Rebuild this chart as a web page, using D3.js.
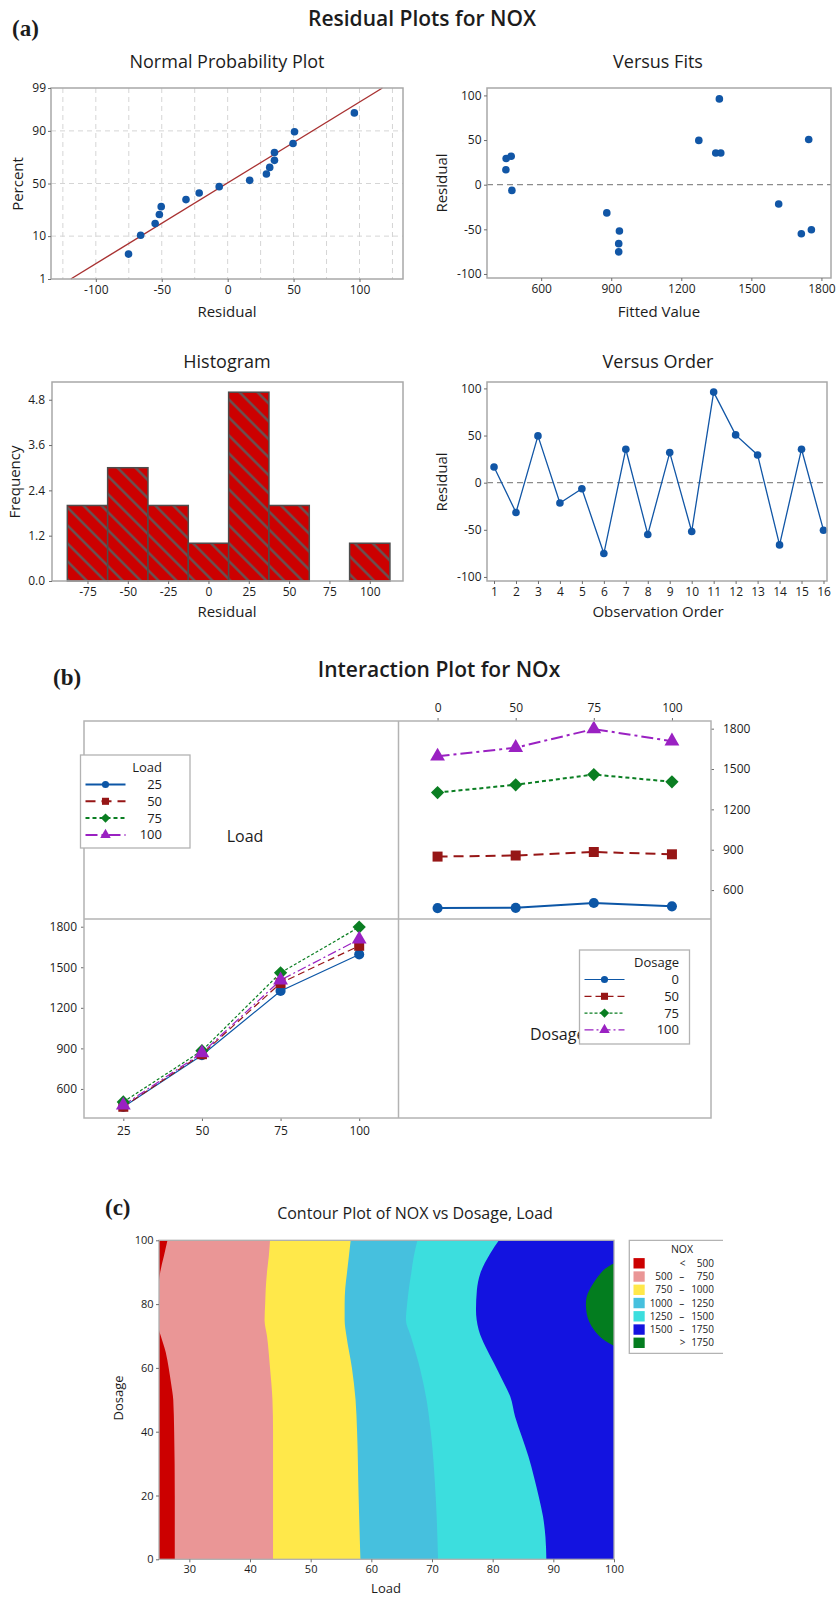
<!DOCTYPE html>
<html>
<head>
<meta charset="utf-8">
<script src="https://cdn.jsdelivr.net/npm/d3@7"></script>
<style>
  body { margin: 0; background: #fff; }
  svg { display: block; font-family: "Open Sans", "Noto Sans", sans-serif; }
</style>
</head>
<body>
<svg id="fig" width="838" height="1597"></svg>
<script>
// ---------- (a) residuals of the NOX model ----------
const observationOrder = d3.range(1, 17);
const residuals = [16.7, -31.6, 49.6, -21.6, -6.4, -75.2, 35.5, -55.0, 31.9, -51.8, 96.1, 50.7, 29.4, -66.0, 35.5, -50.4];
const fittedValues = [449, 881, 1275, 1617, 474.5, 932, 1347.5, 1714, 471.6, 935, 1363, 1745.5, 450, 932, 1369, 1757];
const histMidpoints = [-75, -50, -25, 0, 25, 50, 75, 100];
const histCounts = [2, 3, 2, 1, 5, 2, 0, 1];
const percentTicks = [1, 10, 50, 90, 99];
const residualTicks = [-100, -50, 0, 50, 100];
const fitTicks = [600, 900, 1200, 1500, 1800];
const freqTicks = [0, 1.2, 2.4, 3.6, 4.8];

// ---------- (b) mean NOx by Load (rows) and Dosage (columns) ----------
const loadLevels = ["25", "50", "75", "100"];
const dosageLevels = ["0", "50", "75", "100"];
const noxLoad25 = [466, 468, 504, 479];
const noxLoad50 = [849, 857, 883, 866];
const noxLoad75 = [1325, 1383, 1459, 1405];
const noxLoad100 = [1595, 1659, 1797, 1707];
const noxTicks = [600, 900, 1200, 1500, 1800];

// ---------- (c) contour boundaries, [dosage, load] where NOX reaches each level ----------
const edge500 = [[0, 27.6], [20, 27.6], [40, 27.5], [50, 27.35], [55, 27.0], [60, 26.6], [65, 26.1], [70, 25.3], [72, 25], [87, 25], [90, 25.2], [95, 25.8], [100, 26.4]];
const edge750 = [[0, 43.8], [20, 43.8], [40, 43.8], [50, 43.7], [60, 43.3], [70, 42.8], [75, 42.4], [80, 42.5], [85, 42.6], [90, 42.8], [95, 43.1], [100, 43.3]];
const edge1000 = [[0, 58.2], [20, 57.9], [40, 57.65], [50, 57.4], [60, 56.8], [70, 55.9], [75, 55.6], [80, 55.6], [85, 55.7], [90, 56.0], [95, 56.3], [100, 56.6]];
const edge1250 = [[0, 71.0], [20, 70.6], [40, 69.8], [50, 69.1], [60, 68.0], [70, 66.5], [75, 65.7], [80, 65.9], [85, 66.2], [90, 66.6], [95, 67.0], [100, 67.6]];
const edge1500 = [[0, 88.85], [7, 88.7], [13.4, 88.3], [19.6, 87.6], [25.9, 86.8], [32.2, 85.9], [38.5, 84.8], [44.7, 83.7], [51, 82.9], [56.2, 81.6], [61.5, 80.2], [66.7, 78.8], [71.9, 77.7], [78.2, 77.25], [84.4, 77.4], [89.7, 77.97], [95.9, 79.6], [100, 81.04]];
// region above 1750, [load, dosage]
const peak1750 = [[100, 92.8], [98.3, 90.7], [96.6, 86.5], [95.5, 82.3], [95.4, 78.7], [95.8, 75.0], [96.9, 71.4], [98.3, 68.8], [100, 66.9]];
const bandLow = [null, 500, 750, 1000, 1250, 1500, 1750];
const bandHigh = [500, 750, 1000, 1250, 1500, 1750, null];
const bandColors = ["#cc0000", "#ea9696", "#ffe84a", "#46c0de", "#3cdede", "#1313e0", "#037d1f"];
const loadTicks = [30, 40, 50, 60, 70, 80, 90, 100];
const dosageTicks = [0, 20, 40, 60, 80, 100];

// ---------- styling ----------
const ink = "#1c1c1c";
const frameGrey = "#a8a8a8";
const dotBlue = "#1156a6";
const seriesColors = ["#0c56a6", "#961616", "#0a7e22", "#9a21c2"];
const thickDash = [null, "10,6", "4,3", "12,4,3,4"];
const thinDash = [null, "7,4", "3,2", "9,3,2,3"];
const plain = d => String(d);

const svg = d3.select("#fig");

function label(parent, x, y, str, o = {}) {
  const t = parent.append("text")
    .attr("transform", `translate(${x},${y})` + (o.rotate ? ` rotate(${o.rotate})` : ""))
    .attr("text-anchor", o.anchor || "middle")
    .attr("dy", o.dy || "0.35em")
    .attr("fill", o.fill || ink)
    .style("font-size", (o.size || 15) + "px")
    .style("font-weight", o.weight || 400)
    .text(str);
  if (o.family) t.style("font-family", o.family);
  return t;
}

function frame(g, x0, y0, x1, y1, color = frameGrey, w = 1.5) {
  g.append("rect").attr("x", x0).attr("y", y0).attr("width", x1 - x0).attr("height", y1 - y0)
    .attr("fill", "none").attr("stroke", color).attr("stroke-width", w);
}

function tidyAxis(sel, size = 12) {
  sel.select(".domain").remove();
  sel.selectAll(".tick line").attr("stroke", "#6d6d6d");
  sel.selectAll(".tick text").attr("fill", ink).style("font-size", size + "px").style("font-family", "\"Open Sans\", sans-serif");
}

// inverse standard normal CDF (Acklam)
function probit(p) {
  const a = [-3.969683028665376e+01, 2.209460984245205e+02, -2.759285104469687e+02, 1.383577518672690e+02, -3.066479806614716e+01, 2.506628277459239e+00];
  const b = [-5.447609879822406e+01, 1.615858368580409e+02, -1.556989798598866e+02, 6.680131188771972e+01, -1.328068155288572e+01];
  const c = [-7.784894002430293e-03, -3.223964580411365e-01, -2.400758277161838e+00, -2.549732539343734e+00, 4.374664141464968e+00, 2.938163982698783e+00];
  const d = [7.784695709041462e-03, 3.224671290700398e-01, 2.445134137142996e+00, 3.754408661907416e+00];
  const pl = 0.02425;
  if (p < pl) {
    const q = Math.sqrt(-2 * Math.log(p));
    return (((((c[0] * q + c[1]) * q + c[2]) * q + c[3]) * q + c[4]) * q + c[5]) / ((((d[0] * q + d[1]) * q + d[2]) * q + d[3]) * q + 1);
  }
  if (p <= 1 - pl) {
    const q = p - 0.5, r = q * q;
    return (((((a[0] * r + a[1]) * r + a[2]) * r + a[3]) * r + a[4]) * r + a[5]) * q / (((((b[0] * r + b[1]) * r + b[2]) * r + b[3]) * r + b[4]) * r + 1);
  }
  return -probit(1 - p);
}

// ====================== (a) Residual Plots ======================
const ga = svg.append("g");
label(ga, 12, 28, "(a)", { anchor: "start", size: 23, weight: 700, family: "\"Liberation Serif\", serif" });
label(ga, 422, 19, "Residual Plots for NOX", { size: 21, weight: 600 });

// --- Normal probability plot ---
{
  const X0 = 51, X1 = 403, Y0 = 88, Y1 = 279;
  const x = d3.scaleLinear().domain([-134, 133]).range([X0, X1]);
  const y = d3.scaleLinear().domain([probit(0.01), probit(0.99)]).range([Y1, Y0]);
  const g = ga.append("g");
  label(g, 227, 62, "Normal Probability Plot", { size: 18 });

  const grid = g.append("g").attr("stroke", "#d5d5d5").attr("stroke-dasharray", "5,4").attr("stroke-width", 1);
  d3.range(-125, 126, 25).forEach(v => grid.append("line").attr("x1", x(v)).attr("x2", x(v)).attr("y1", Y0).attr("y2", Y1));
  [10, 50, 90].forEach(p => grid.append("line").attr("x1", X0).attr("x2", X1).attr("y1", y(probit(p / 100))).attr("y2", y(probit(p / 100))));

  // fitted normal line from the residuals' mean and standard deviation
  const m = d3.mean(residuals), s = d3.deviation(residuals);
  const zLo = probit(0.01), zHi = probit(0.99);
  g.append("line").attr("x1", x(m + s * zLo)).attr("y1", y(zLo)).attr("x2", x(m + s * zHi)).attr("y2", y(zHi))
    .attr("stroke", "#a93232").attr("stroke-width", 1.4);

  const sorted = residuals.slice().sort(d3.ascending);
  const n = sorted.length;
  g.selectAll("circle.pt").data(sorted).join("circle")
    .attr("cx", d => x(d)).attr("cy", (d, i) => y(probit((i + 1 - 0.3) / (n + 0.4))))
    .attr("r", 3.8).attr("fill", dotBlue);

  frame(g, X0, Y0, X1, Y1);
  g.append("g").attr("transform", `translate(0,${Y1})`)
    .call(d3.axisBottom(x).tickValues(residualTicks).tickFormat(plain).tickSize(3).tickPadding(3)).call(tidyAxis);
  g.append("g").attr("transform", `translate(${X0},0)`)
    .call(d3.axisLeft(y).tickValues(percentTicks.map(p => probit(p / 100))).tickFormat((d, i) => percentTicks[i]).tickSize(3).tickPadding(2)).call(tidyAxis);
  label(g, 227, 312, "Residual", { size: 15 });
  label(g, 18, 184, "Percent", { size: 15, rotate: -90 });
}

// --- Versus Fits ---
{
  const X0 = 487, X1 = 831, Y0 = 88, Y1 = 278;
  const x = d3.scaleLinear().domain([368, 1841]).range([X0, X1]);
  const y = d3.scaleLinear().domain([-104.5, 108.3]).range([Y1, Y0]);
  const g = ga.append("g");
  label(g, 658, 62, "Versus Fits", { size: 18 });
  g.append("line").attr("x1", X0).attr("x2", X1).attr("y1", y(0)).attr("y2", y(0))
    .attr("stroke", "#8c8c8c").attr("stroke-width", 1.3).attr("stroke-dasharray", "6,4");
  g.selectAll("circle").data(fittedValues).join("circle")
    .attr("cx", d => x(d)).attr("cy", (d, i) => y(residuals[i])).attr("r", 3.8).attr("fill", dotBlue);
  frame(g, X0, Y0, X1, Y1);
  g.append("g").attr("transform", `translate(0,${Y1})`)
    .call(d3.axisBottom(x).tickValues(fitTicks).tickFormat(plain).tickSize(3).tickPadding(3)).call(tidyAxis);
  g.append("g").attr("transform", `translate(${X0},0)`)
    .call(d3.axisLeft(y).tickValues(residualTicks).tickFormat(plain).tickSize(3).tickPadding(2.5)).call(tidyAxis);
  label(g, 659, 312, "Fitted Value", { size: 15 });
  label(g, 442, 183, "Residual", { size: 15, rotate: -90 });
}

// --- Histogram ---
{
  const X0 = 52, X1 = 403, Y0 = 382, Y1 = 581;
  const x = d3.scaleLinear().domain([-97, 120.6]).range([X0, X1]);
  const y = d3.scaleLinear().domain([0, 5.27]).range([Y1, Y0]);
  const g = ga.append("g");
  label(g, 227, 362, "Histogram", { size: 18 });

  const defs = svg.append("defs");
  const pat = defs.append("pattern").attr("id", "hatch").attr("patternUnits", "userSpaceOnUse")
    .attr("width", 12.7).attr("height", 12.7).attr("patternTransform", "rotate(45)");
  pat.append("rect").attr("width", 12.7).attr("height", 12.7).attr("fill", "#cc0000");
  pat.append("line").attr("x1", 0).attr("x2", 12.7).attr("y1", 6.35).attr("y2", 6.35)
    .attr("stroke", "#5c5c5c").attr("stroke-width", 2.2);

  g.selectAll("rect.bar").data(histMidpoints).join("rect").attr("class", "bar")
    .attr("x", d => x(d - 12.5)).attr("width", d => x(d + 12.5) - x(d - 12.5))
    .attr("y", (d, i) => y(histCounts[i])).attr("height", (d, i) => y(0) - y(histCounts[i]))
    .attr("fill", "url(#hatch)").attr("stroke", "#4d4d4d").attr("stroke-width", 1.5);

  frame(g, X0, Y0, X1, Y1);
  g.append("g").attr("transform", `translate(0,${Y1})`)
    .call(d3.axisBottom(x).tickValues(histMidpoints).tickFormat(plain).tickSize(3).tickPadding(3)).call(tidyAxis);
  g.append("g").attr("transform", `translate(${X0},0)`)
    .call(d3.axisLeft(y).tickValues(freqTicks).tickFormat(d => d.toFixed(1)).tickSize(3).tickPadding(4)).call(tidyAxis);
  label(g, 227, 612, "Residual", { size: 15 });
  label(g, 15, 482, "Frequency", { size: 15, rotate: -90 });
}

// --- Versus Order ---
{
  const X0 = 487, X1 = 827, Y0 = 382, Y1 = 581;
  const x = d3.scaleLinear().domain([0.68, 16.16]).range([X0, X1]);
  const y = d3.scaleLinear().domain([-104.3, 106.8]).range([Y1, Y0]);
  const g = ga.append("g");
  label(g, 658, 362, "Versus Order", { size: 18 });
  g.append("line").attr("x1", X0).attr("x2", X1).attr("y1", y(0)).attr("y2", y(0))
    .attr("stroke", "#8c8c8c").attr("stroke-width", 1.3).attr("stroke-dasharray", "6,4");
  g.append("path").datum(observationOrder)
    .attr("d", d3.line().x(d => x(d)).y((d, i) => y(residuals[i])))
    .attr("fill", "none").attr("stroke", dotBlue).attr("stroke-width", 1.3);
  g.selectAll("circle").data(observationOrder).join("circle")
    .attr("cx", d => x(d)).attr("cy", (d, i) => y(residuals[i])).attr("r", 3.8).attr("fill", dotBlue);
  frame(g, X0, Y0, X1, Y1);
  g.append("g").attr("transform", `translate(0,${Y1})`)
    .call(d3.axisBottom(x).tickValues(observationOrder).tickFormat(plain).tickSize(3).tickPadding(3)).call(tidyAxis);
  g.append("g").attr("transform", `translate(${X0},0)`)
    .call(d3.axisLeft(y).tickValues(residualTicks).tickFormat(plain).tickSize(3).tickPadding(2.5)).call(tidyAxis);
  label(g, 658, 612, "Observation Order", { size: 15 });
  label(g, 442, 482, "Residual", { size: 15, rotate: -90 });
}

// ====================== (b) Interaction Plot ======================
const gb = svg.append("g");
label(gb, 53, 677, "(b)", { anchor: "start", size: 23, weight: 700, family: "\"Liberation Serif\", serif" });
label(gb, 439, 670, "Interaction Plot for NOx", { size: 21, weight: 600 });

const noxByLoad = [noxLoad25, noxLoad50, noxLoad75, noxLoad100];
const L = 84, R = 711, T = 721, B = 1118, MX = 398.5, MY = 919;

function marker(g, k, cx, cy, scale) {
  const types = [d3.symbolCircle, d3.symbolSquare, d3.symbolSquare, d3.symbolTriangle];
  const areas = [80, 100, 88, 95];
  g.append("path").attr("d", d3.symbol(types[k], areas[k] * scale)())
    .attr("transform", `translate(${cx},${cy})` + (k === 2 ? " rotate(45)" : ""))
    .attr("fill", seriesColors[k]);
}

// top-right: NOx vs Dosage, one line per Load
{
  const x = d3.scalePoint().domain(dosageLevels).range([MX, R]).padding(0.5);
  const y = d3.scaleLinear().domain([385, 1857]).range([MY, T]);
  const g = gb.append("g");
  noxByLoad.forEach((row, k) => {
    g.append("path").datum(row)
      .attr("d", d3.line().x((d, j) => x(dosageLevels[j])).y(d => y(d)))
      .attr("fill", "none").attr("stroke", seriesColors[k]).attr("stroke-width", 2)
      .attr("stroke-dasharray", thickDash[k]);
    row.forEach((v, j) => marker(g, k, x(dosageLevels[j]), y(v), 1));
  });
  g.append("g").attr("transform", `translate(0,${T})`)
    .call(d3.axisTop(x).tickSize(3).tickPadding(6)).call(tidyAxis);
  g.append("g").attr("transform", `translate(${R},0)`)
    .call(d3.axisRight(y).tickValues(noxTicks).tickFormat(plain).tickSize(3).tickPadding(9)).call(tidyAxis);
}

// bottom-left: NOx vs Load, one line per Dosage
{
  const x = d3.scalePoint().domain(loadLevels).range([L, MX]).padding(0.5);
  const y = d3.scaleLinear().domain([385, 1857]).range([B, MY]);
  const g = gb.append("g");
  dosageLevels.forEach((dl, k) => {
    const col = noxByLoad.map(row => row[k]);
    g.append("path").datum(col)
      .attr("d", d3.line().x((d, i) => x(loadLevels[i])).y(d => y(d)))
      .attr("fill", "none").attr("stroke", seriesColors[k]).attr("stroke-width", 1.2)
      .attr("stroke-dasharray", thinDash[k]);
  });
  dosageLevels.forEach((dl, k) => {
    noxByLoad.forEach((row, i) => marker(g, k, x(loadLevels[i]), y(row[k]), 1));
  });
  g.append("g").attr("transform", `translate(0,${B})`)
    .call(d3.axisBottom(x).tickSize(3).tickPadding(5)).call(tidyAxis);
  g.append("g").attr("transform", `translate(${L},0)`)
    .call(d3.axisLeft(y).tickValues(noxTicks).tickFormat(plain).tickSize(3).tickPadding(4)).call(tidyAxis);
}

// panel frame, dividers and factor names
{
  const g = gb.append("g");
  frame(g, L, T, R, B, "#b3b3b3", 1.5);
  g.append("line").attr("x1", MX).attr("x2", MX).attr("y1", T).attr("y2", B).attr("stroke", "#b3b3b3").attr("stroke-width", 1.5);
  g.append("line").attr("x1", L).attr("x2", R).attr("y1", MY).attr("y2", MY).attr("stroke", "#b3b3b3").attr("stroke-width", 1.5);
  label(g, 245, 836, "Load", { size: 16 });
  label(g, 530, 1034, "Dosage", { size: 16, anchor: "start" });
}

function seriesLegend(g, x0, y0, w, h, textRight, title, levels, lineW, dashes) {
  g.append("rect").attr("x", x0).attr("y", y0).attr("width", w).attr("height", h)
    .attr("fill", "#fff").attr("stroke", "#b3b3b3").attr("stroke-width", 1.3);
  label(g, textRight, y0 + 12, title, { anchor: "end", size: 13 });
  levels.forEach((lv, k) => {
    const yy = y0 + 29.5 + k * 16.8;
    g.append("line").attr("x1", x0 + 5).attr("x2", x0 + 45).attr("y1", yy).attr("y2", yy)
      .attr("stroke", seriesColors[k]).attr("stroke-width", lineW).attr("stroke-dasharray", dashes[k]);
    marker(g, k, x0 + 25, yy, 0.5);
    label(g, textRight, yy, lv, { anchor: "end", size: 13 });
  });
}
seriesLegend(gb.append("g"), 80.5, 755, 109.5, 93, 162, "Load", loadLevels, 2, thickDash);
seriesLegend(gb.append("g"), 579.5, 950, 110, 94, 679, "Dosage", dosageLevels, 1.2, thinDash);

// ====================== (c) Contour Plot ======================
const gc = svg.append("g");
label(gc, 105, 1207, "(c)", { anchor: "start", size: 23, weight: 700, family: "\"Liberation Serif\", serif" });
label(gc, 415, 1213, "Contour Plot of NOX vs Dosage, Load", { size: 16 });
{
  const X0 = 159, X1 = 614, Y0 = 1240.3, Y1 = 1559.3;
  const x = d3.scaleLinear().domain([25, 100]).range([X0, X1]);
  const y = d3.scaleLinear().domain([0, 100]).range([Y1, Y0]);
  const g = gc.append("g");
  svg.select("defs").append("clipPath").attr("id", "contourClip")
    .append("rect").attr("x", X0).attr("y", Y0).attr("width", X1 - X0).attr("height", Y1 - Y0);
  const body = g.append("g").attr("clip-path", "url(#contourClip)");

  body.append("rect").attr("x", X0).attr("y", Y0).attr("width", X1 - X0).attr("height", Y1 - Y0).attr("fill", bandColors[5]);
  const fromLeft = d3.area().curve(d3.curveMonotoneY)
    .y(d => y(d[0])).x0(x(25)).x1(d => x(d[1]));
  [[edge1500, 4], [edge1250, 3], [edge1000, 2], [edge750, 1], [edge500, 0]].forEach(([edge, k]) => {
    body.append("path").datum(edge).attr("d", fromLeft).attr("fill", bandColors[k]);
  });
  body.append("path")
    .attr("d", d3.line().curve(d3.curveCatmullRom).x(d => x(d[0])).y(d => y(d[1]))(peak1750) + "Z")
    .attr("fill", bandColors[6]);

  frame(g, X0, Y0, X1, Y1, "#b0b0b0", 1.3);
  g.append("g").attr("transform", `translate(0,${Y1})`)
    .call(d3.axisBottom(x).tickValues(loadTicks).tickFormat(plain).tickSize(3).tickPadding(3)).call(s => tidyAxis(s, 11));
  g.append("g").attr("transform", `translate(${X0},0)`)
    .call(d3.axisLeft(y).tickValues(dosageTicks).tickFormat(plain).tickSize(3).tickPadding(2.5)).call(s => tidyAxis(s, 11));
  label(g, 386, 1588, "Load", { size: 13 });
  label(g, 118, 1398, "Dosage", { size: 13, rotate: -90 });

  // legend
  const lg = g.append("g");
  lg.append("path").attr("d", "M723,1240.3H629.3V1353.3H723").attr("fill", "none").attr("stroke", "#b3b3b3").attr("stroke-width", 1.3);
  label(lg, 682, 1249.5, "NOX", { size: 10.5 });
  bandColors.forEach((col, k) => {
    const yy = 1263.3 + k * 13.25;
    lg.append("rect").attr("x", 633.5).attr("y", yy - 5.2).attr("width", 11.2).attr("height", 10.4).attr("fill", col);
    if (bandLow[k] === null) {
      label(lg, 682.5, yy, "<", { size: 10 });
      label(lg, 714, yy, bandHigh[k], { anchor: "end", size: 10 });
    } else if (bandHigh[k] === null) {
      label(lg, 682.5, yy, ">", { size: 10 });
      label(lg, 714, yy, bandLow[k], { anchor: "end", size: 10 });
    } else {
      label(lg, 672.5, yy, bandLow[k], { anchor: "end", size: 10 });
      label(lg, 681.7, yy, "–", { size: 10 });
      label(lg, 714, yy, bandHigh[k], { anchor: "end", size: 10 });
    }
  });
}
</script>
</body>
</html>
